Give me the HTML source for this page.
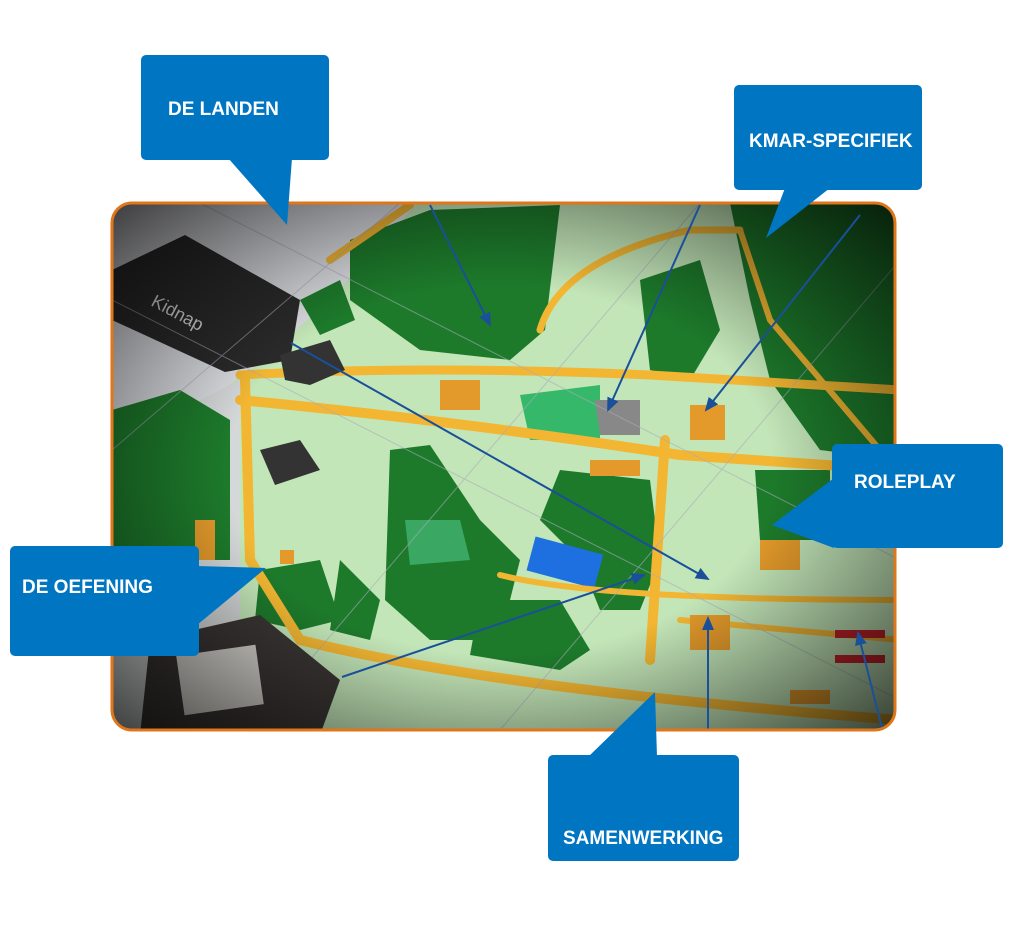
<!DOCTYPE html>
<html><head><style>
html,body{margin:0;padding:0;background:#fff;}
body{width:1020px;height:938px;position:relative;overflow:hidden;font-family:"Liberation Sans",sans-serif;}
.box{position:absolute;background:#0076c2;border-radius:5px;color:#fff;font-weight:bold;font-size:19px;}
</style></head><body>
<svg width="1020" height="938" style="position:absolute;left:0;top:0">
<defs>
<clipPath id="c"><rect x="112" y="203" width="783" height="527" rx="20"/></clipPath>
<radialGradient id="v" cx="50%" cy="50%" r="68%">
<stop offset="50%" stop-color="#000" stop-opacity="0"/>
<stop offset="100%" stop-color="#000" stop-opacity="0.7"/>
</radialGradient>
<marker id="a" markerWidth="14" markerHeight="12" refX="12" refY="6" orient="auto" markerUnits="userSpaceOnUse"><path d="M0,0 L14,6 L0,12 z" fill="#1a4f9a"/></marker>
</defs>
<g clip-path="url(#c)">
<rect x="100" y="200" width="800" height="540" fill="#c3e6b8"/>
<polygon points="100,200 420,200 330,300 250,370 180,420 100,460" fill="#dcdde2"/>
<polygon points="100,440 200,400 240,380 240,720 100,740" fill="#d5d8d8"/>
<polygon points="112,270 185,235 300,300 290,360 225,372 112,320" fill="#2a2a2a"/>
<text x="150" y="305" fill="#ddd" font-size="18" transform="rotate(28 150 305)">Kidnap</text>
<polygon points="350,240 430,210 560,205 545,330 510,360 420,350 350,300" fill="#1d7a2b"/>
<polygon points="300,300 340,280 355,320 320,335" fill="#1d7a2b"/>
<polygon points="730,203 900,203 900,460 820,450 770,380 750,300" fill="#1d7a2b"/>
<polygon points="640,280 700,260 720,330 690,380 650,370" fill="#1d7a2b"/>
<polygon points="112,410 180,390 230,420 230,560 112,560" fill="#1d7a2b"/>
<polygon points="390,450 430,445 480,520 520,560 500,640 430,640 385,600" fill="#1d7a2b"/>
<polygon points="560,470 650,480 660,560 640,610 600,610 580,560 540,520" fill="#1d7a2b"/>
<polygon points="755,470 830,470 830,540 760,540" fill="#1d7a2b"/>
<polygon points="260,570 320,560 340,620 300,630 255,620" fill="#1d7a2b"/>
<polygon points="480,600 560,600 590,650 560,670 470,655" fill="#1d7a2b"/>
<polygon points="340,560 380,600 370,640 330,630" fill="#1d7a2b"/>
<polygon points="520,395 600,385 600,440 530,440" fill="#36b86a"/>
<polygon points="405,520 460,520 470,560 410,565" fill="#3aa863"/>
<rect x="530" y="545" width="70" height="35" fill="#1e6fe0" transform="rotate(15 565 562)"/>
<g stroke="#f2b632" fill="none" stroke-linecap="round">
<path d="M240,375 Q420,365 650,375 L900,390" stroke-width="9"/>
<path d="M240,400 Q450,420 680,455 L900,470" stroke-width="10"/>
<path d="M245,380 L250,560 L300,640 Q500,690 900,720" stroke-width="10"/>
<path d="M665,440 L650,660" stroke-width="10"/>
<path d="M540,330 Q560,260 690,230 L740,230" stroke-width="7"/>
<path d="M740,230 L770,320 L880,450" stroke-width="6"/>
<path d="M330,260 L410,205" stroke-width="8"/>
<path d="M500,575 Q600,600 900,600" stroke-width="6"/>
<path d="M680,620 L900,640" stroke-width="6"/>
</g>
<g fill="#e39a2b">
<rect x="440" y="380" width="40" height="30"/><rect x="690" y="405" width="35" height="35"/>
<rect x="590" y="460" width="50" height="16"/><rect x="690" y="615" width="40" height="35"/>
<rect x="195" y="520" width="20" height="40"/><rect x="280" y="550" width="14" height="14"/>
<rect x="760" y="540" width="40" height="30"/><rect x="790" y="690" width="40" height="14"/>
</g>
<rect x="835" y="630" width="50" height="8" fill="#c8232c"/><rect x="835" y="655" width="50" height="8" fill="#c8232c"/>
<polygon points="280,355 330,340 345,370 310,385 285,380" fill="#333"/>
<polygon points="260,450 300,440 320,470 275,485" fill="#333"/>
<polygon points="595,400 640,400 640,435 600,435" fill="#888"/>
<g stroke="#aab" stroke-width="1" opacity="0.6">
<path d="M112,450 L400,203"/><path d="M250,730 L700,203"/><path d="M500,730 L900,260"/>
<path d="M112,300 L900,700"/><path d="M200,203 L900,560"/>
</g>
<polygon points="150,640 260,615 340,680 320,735 140,735" fill="#3a3634"/>
<rect x="180" y="650" width="80" height="60" fill="#d9d6d0" transform="rotate(-8 220 680)"/>
<rect x="100" y="200" width="800" height="540" fill="url(#v)"/>
<g stroke="#1a4f9a" stroke-width="2" fill="none" marker-end="url(#a)">
<line x1="430" y1="205" x2="490" y2="325"/>
<line x1="700" y1="205" x2="608" y2="410"/>
<line x1="860" y1="215" x2="706" y2="410"/>
<line x1="291" y1="343" x2="708" y2="579"/>
<line x1="342" y1="677" x2="644" y2="575"/>
<line x1="708" y1="732" x2="708" y2="618"/>
<line x1="882" y1="728" x2="858" y2="633"/>
</g>
</g>
<rect x="112" y="203" width="783" height="527" rx="20" fill="none" stroke="#e0761a" stroke-width="3"/>
<g fill="#0076c2">
<polygon points="228,158 292,158 287,225"/>
<polygon points="785,188 830,188 766,238"/>
<polygon points="834,478 834,548 772,525"/>
<polygon points="197,566 197,625 266,568"/>
<polygon points="588,757 657,757 655,692"/>
</g>
</svg>
<div class="box" style="left:141px;top:55px;width:188px;height:105px;"><span style="position:absolute;left:27px;top:44px">DE LANDEN</span></div>
<div class="box" style="left:734px;top:85px;width:188px;height:105px;"><span style="position:absolute;left:15px;top:46px">KMAR-SPECIFIEK</span></div>
<div class="box" style="left:832px;top:444px;width:171px;height:104px;"><span style="position:absolute;left:22px;top:28px">ROLEPLAY</span></div>
<div class="box" style="left:10px;top:546px;width:189px;height:110px;"><span style="position:absolute;left:12px;top:31px">DE OEFENING</span></div>
<div class="box" style="left:548px;top:755px;width:191px;height:106px;"><span style="position:absolute;left:15px;top:73px">SAMENWERKING</span></div>
</body></html>
